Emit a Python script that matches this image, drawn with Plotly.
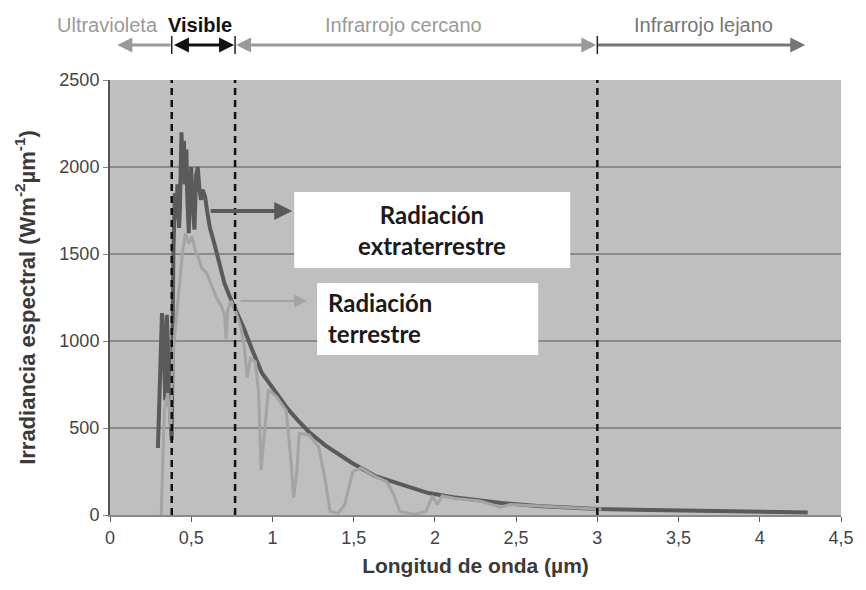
import plotly.graph_objects as go

# ---------------- data ----------------
ext_x = [0.295, 0.31, 0.32, 0.33, 0.34, 0.35, 0.36, 0.37, 0.38, 0.39, 0.40, 0.41, 0.415, 0.425,
         0.43, 0.44, 0.445, 0.455, 0.46, 0.47, 0.475, 0.485, 0.49, 0.50, 0.51, 0.52, 0.53,
         0.54, 0.55, 0.56, 0.57, 0.585, 0.60, 0.615, 0.645, 0.675, 0.705, 0.735, 0.765,
         0.825, 0.875, 0.935, 1.025, 1.085, 1.155, 1.225, 1.325, 1.49, 1.63, 1.78, 1.96,
         2.13, 2.41, 2.63, 2.83, 3.0, 3.23, 3.53, 3.93, 4.295]
ext_y = [385, 900, 1160, 1000, 660, 1150, 820, 600, 430, 1500, 1850, 1700, 1900, 1650,
         1750, 2200, 2000, 2150, 1900, 2100, 1850, 1620, 1900, 2000, 1750, 1640, 1950,
         2000, 1880, 1810, 1870, 1830, 1735, 1650, 1550, 1440, 1330, 1260, 1200,
         1070, 950, 816, 700, 621, 545, 477, 400, 299, 225, 180, 126,
         100, 69, 52, 42, 34, 30, 26, 22, 14]

ter_x = [0.315, 0.325, 0.335, 0.355, 0.375, 0.385, 0.405, 0.425, 0.445, 0.465, 0.485, 0.505,
         0.525, 0.545, 0.565, 0.595, 0.625, 0.655, 0.685, 0.705, 0.715, 0.725, 0.745, 0.77,
         0.805, 0.825, 0.845, 0.865, 0.895, 0.915, 0.93, 0.945, 0.975, 1.025, 1.085, 1.115,
         1.13, 1.15, 1.165, 1.225, 1.285, 1.325, 1.355, 1.405, 1.445, 1.495, 1.545, 1.625,
         1.705, 1.745, 1.785, 1.875, 1.945, 1.985, 2.015, 2.045, 2.125, 2.275, 2.405, 2.465,
         2.575, 2.725, 2.925, 3.025]
ter_y = [0, 350, 600, 700, 500, 900, 1100, 1300, 1500, 1620, 1560, 1600,
         1520, 1480, 1420, 1390, 1320, 1250, 1200, 1150, 1010, 1180, 1230, 1180,
         1080, 980, 790, 900, 880, 700, 260, 400, 720, 680, 600, 300,
         100, 250, 470, 460, 390, 200, 20, 10, 60, 250, 270, 225,
         190, 120, 20, 5, 20, 110, 60, 110, 95, 80, 45, 60,
         55, 45, 38, 33]

x_ticks = [0, 0.5, 1, 1.5, 2, 2.5, 3, 3.5, 4, 4.5]
x_tick_labels = ["0", "0,5", "1", "1,5", "2", "2,5", "3", "3,5", "4", "4,5"]
y_ticks = [0, 500, 1000, 1500, 2000, 2500]

region_bounds = [0.38, 0.77, 3.0]
region_names = ["Ultravioleta", "Visible", "Infrarrojo cercano", "Infrarrojo lejano"]

# ---------------- layout constants ----------------
W, H = 866, 590
ML, MR, MT, MB = 110, 22, 80, 75
PW = W - ML - MR
PH = H - MT - MB
XR = [0, 4.5]
PPU = PW / (XR[1] - XR[0])   # pixels per x unit


def py(p):
    """pixel row -> paper y"""
    return (H - MB - p) / PH


def px(p):
    """pixel column -> paper x"""
    return (p - ML) / PW


fig = go.Figure()

fig.add_trace(go.Scatter(x=ext_x, y=ext_y, mode="lines",
                         line=dict(color="#5a5a5a", width=4), showlegend=False))
fig.add_trace(go.Scatter(x=ter_x, y=ter_y, mode="lines",
                         line=dict(color="#a4a4a4", width=3), showlegend=False))

shapes = []
for b in region_bounds:
    shapes.append(dict(type="line", xref="x", yref="y", x0=b, x1=b, y0=0, y1=2500,
                       line=dict(color="#111111", width=2.5, dash="7px,5px")))
    shapes.append(dict(type="line", xref="x", yref="paper", x0=b, x1=b, y0=py(54), y1=py(36),
                       line=dict(color="#222222", width=1.5)))

# white label boxes
shapes.append(dict(type="rect", xref="x", yref="y", x0=1.134, x1=2.833, y0=1420, y1=1856,
                   fillcolor="white", line=dict(width=0), layer="above"))
shapes.append(dict(type="rect", xref="x", yref="y", x0=1.275, x1=2.636, y0=920, y1=1333,
                   fillcolor="white", line=dict(width=0), layer="above"))

annotations = []
# top region labels
label_px = [107, 200, 405, 706]
label_cols = ["#9a9a9a", "#111111", "#9a9a9a", "#767676"]
for name, cx, col in zip(region_names, label_px, label_cols):
    txt = f"<b>{name}</b>" if name == "Visible" else name
    annotations.append(dict(x=px(cx), y=py(25), xref="paper", yref="paper", text=txt,
                            showarrow=False,
                            font=dict(family="Liberation Sans, Arial", size=20, color=col),
                            xanchor="center", yanchor="middle"))

ay_pix = 45
# UV arrow (head at left)
uv_head = 0.045
annotations.append(dict(x=uv_head, y=py(ay_pix), xref="x", yref="paper", text="",
                        showarrow=True, ax=(region_bounds[0] - uv_head) * PPU, ay=0,
                        arrowhead=2, arrowsize=1, arrowwidth=3, arrowcolor="#9a9a9a", standoff=0))
# visible double arrow
annotations.append(dict(x=region_bounds[1], y=py(ay_pix), xref="x", yref="paper", text="",
                        showarrow=True, ax=-(region_bounds[1] - region_bounds[0]) * PPU, ay=0,
                        arrowhead=2, startarrowhead=2, arrowside="end+start", arrowsize=1,
                        arrowwidth=3, arrowcolor="#111111", standoff=1, startstandoff=1))
# near IR double arrow
annotations.append(dict(x=region_bounds[2], y=py(ay_pix), xref="x", yref="paper", text="",
                        showarrow=True, ax=-(region_bounds[2] - region_bounds[1]) * PPU, ay=0,
                        arrowhead=2, startarrowhead=2, arrowside="end+start", arrowsize=1,
                        arrowwidth=3, arrowcolor="#9a9a9a", standoff=1, startstandoff=1))
# far IR arrow
fir_head = 4.28
annotations.append(dict(x=fir_head, y=py(ay_pix), xref="x", yref="paper", text="",
                        showarrow=True, ax=-(fir_head - region_bounds[2]) * PPU, ay=0,
                        arrowhead=2, arrowsize=1, arrowwidth=3, arrowcolor="#767676", standoff=0))

# series label arrows
annotations.append(dict(x=1.122, y=1747, xref="x", yref="y", text="", showarrow=True,
                        ax=-(1.122 - 0.613) * PPU, ay=0, arrowhead=2, arrowsize=0.9,
                        arrowwidth=4, arrowcolor="#5a5a5a", standoff=0))
annotations.append(dict(x=1.214, y=1230, xref="x", yref="y", text="", showarrow=True,
                        ax=-(1.214 - 0.797) * PPU, ay=0, arrowhead=2, arrowsize=1.3,
                        arrowwidth=2, arrowcolor="#a4a4a4", standoff=0))

lab_font = dict(family="Lato, Open Sans, sans-serif", size=24, color="#1a1a1a")
annotations.append(dict(x=1.98, y=1638, xref="x", yref="y",
                        text="<b>Radiación</b><br><b>extraterrestre</b>", showarrow=False,
                        font=lab_font, align="center", xanchor="center", yanchor="middle"))
annotations.append(dict(x=1.33, y=1135, xref="x", yref="y",
                        text="<b>Radiación</b><br><b>terrestre</b>", showarrow=False,
                        font=lab_font, align="left", xanchor="left", yanchor="middle"))

fig.update_layout(
    width=W, height=H,
    margin=dict(l=ML, r=MR, t=MT, b=MB),
    paper_bgcolor="white",
    plot_bgcolor="#bfbfbf",
    shapes=shapes,
    annotations=annotations,
    font=dict(family="Liberation Sans, Arial", color="#444444"),
    xaxis=dict(range=XR, tickvals=x_ticks, ticktext=x_tick_labels, showgrid=False,
               zeroline=False, showline=True, linecolor="#8a8a8a", linewidth=2,
               ticks="outside", ticklen=5, tickcolor="#555555",
               tickfont=dict(size=18, color="#444444"),
               title=dict(text="<b>Longitud de onda (µm)</b>", standoff=12,
                          font=dict(size=21, color="#3a3a3a"))),
    yaxis=dict(range=[0, 2500], tickvals=y_ticks, showgrid=True, gridcolor="#8a8a8a",
               gridwidth=1.5, zeroline=False, showline=True, linecolor="#555555", linewidth=2,
               ticks="outside", ticklen=5, tickcolor="#888888",
               tickfont=dict(size=18, color="#444444"),
               title=dict(text="<b>Irradiancia espectral (Wm<sup>-2</sup>µm<sup>-1</sup>)</b>",
                          standoff=18, font=dict(size=22, color="#3a3a3a"))),
)

fig.write_html("out.html", config={"displayModeBar": False},
               post_script="document.body.style.margin='0';")
